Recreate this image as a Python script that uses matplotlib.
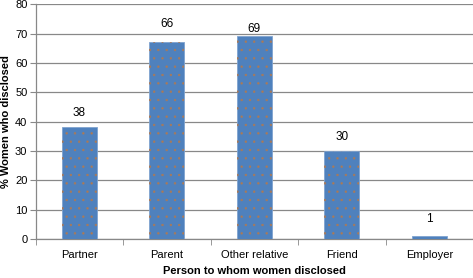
import numpy as np
import matplotlib.pyplot as plt

plt.rcParams['font.family'] = ['Liberation Sans', 'DejaVu Sans']
plt.rcParams['hatch.linewidth'] = 0.5

# data
categories = ['Partner', 'Parent', 'Other relative', 'Friend', 'Employer']
values = [38, 67, 69, 30, 1]
labels = ['38', '66', '69', '30', '1']
# gap between bar top and its label (in data units), as in the original
label_gap = [5.1, 6.1, 2.4, 4.8, 5.8]

fig = plt.figure(figsize=(4.73, 2.78), dpi=100)
ax = fig.add_axes([0.0756, 0.140, 0.9244, 0.845])

x = np.arange(len(categories))
ax.bar(x, values, width=0.4, color='#4f81bd', edgecolor='#7fa3cf',
       linewidth=0.6, zorder=3)
# dotted texture on top of the fill
ax.bar(x, values, width=0.4, facecolor='none', edgecolor='#a87a5a',
       linewidth=0, hatch='..', zorder=4)

for xi, v, lab, g in zip(x, values, labels, label_gap):
    ax.text(xi, v + g, lab, ha='center', va='center', fontsize=8.5)

ax.set_xlim(-0.5, len(categories) - 0.5)
ax.set_ylim(0, 80)
ax.set_yticks(np.arange(0, 81, 10))
ax.yaxis.grid(True, color='#888888', linewidth=0.9, zorder=0)
ax.set_axisbelow(True)

ax.set_xticks(x)
ax.set_xticklabels(categories, fontsize=8)
ax.set_xticks(np.arange(-0.5, len(categories)), minor=True)
ax.tick_params(axis='x', which='major', length=0, pad=8)
ax.tick_params(axis='x', which='minor', length=4, color='#888888')
ax.tick_params(axis='y', labelsize=8, length=4, color='#888888', pad=2)

for s in ['top', 'right']:
    ax.spines[s].set_visible(False)
for s in ['left', 'bottom']:
    ax.spines[s].set_color('#888888')
    ax.spines[s].set_linewidth(0.9)

ax.set_xlabel('Person to whom women disclosed', fontsize=8, fontweight='bold', labelpad=4)
ax.set_ylabel('% Women who disclosed', fontsize=8, fontweight='bold', labelpad=3)

plt.savefig('out.png', dpi=100)
